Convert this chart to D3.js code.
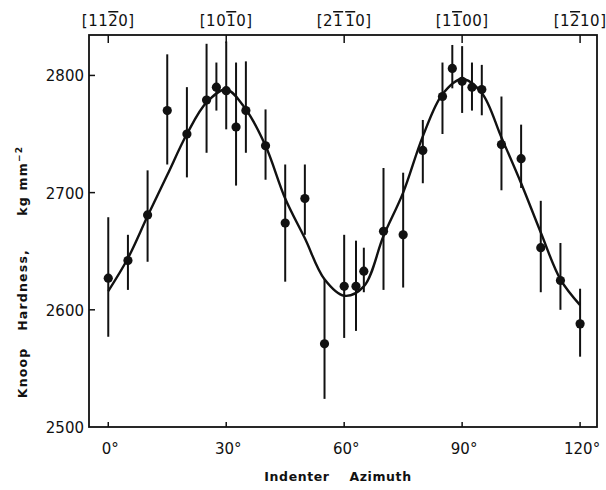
<!DOCTYPE html>
<html>
<head>
<meta charset="utf-8">
<script src="https://cdn.jsdelivr.net/npm/d3@7"></script>
<style>
  body { margin: 0; background: #fff; }
  text { font-family: 'DejaVu Sans', sans-serif; fill: #111; }
</style>
</head>
<body>
<script>
var width = 606;
var height = 490;

// measured points: indenter azimuth (deg), hardness and error bar ends
var angles   = [0, 5, 10, 15, 20, 25, 27.5, 30, 32.5, 35, 40, 45, 50, 55, 60, 63, 65, 70, 75, 80, 85, 87.5, 90, 92.5, 95, 100, 105, 110, 115, 120];
var hardness = [2627, 2642, 2681, 2770, 2750, 2779, 2790, 2787, 2756, 2770, 2740, 2674, 2695, 2571, 2620, 2620, 2633, 2667, 2664, 2736, 2782, 2806, 2795, 2790, 2788, 2741, 2729, 2653, 2625, 2588];
var errLow   = [2577, 2617, 2641, 2724, 2713, 2734, 2770, 2754, 2706, 2734, 2711, 2624, 2664, 2524, 2576, 2582, 2615, 2617, 2619, 2708, 2750, 2789, 2768, 2770, 2766, 2702, 2704, 2615, 2600, 2560];
var errHigh  = [2679, 2664, 2719, 2818, 2790, 2827, 2811, 2829, 2811, 2812, 2771, 2724, 2724, 2626, 2664, 2659, 2653, 2721, 2717, 2762, 2811, 2826, 2825, 2811, 2809, 2782, 2758, 2693, 2657, 2618];

// fitted curve
var curveAngles = [0, 5, 10, 15, 20, 25, 30, 35, 40, 45, 50, 55, 60, 65, 70, 75, 80, 85, 90, 95, 100, 105, 110, 115, 120];
var curveValues = [2616, 2644, 2680, 2715, 2750, 2777, 2788, 2771, 2740, 2695, 2661, 2626, 2612, 2620, 2663, 2700, 2748, 2784, 2797, 2785, 2747, 2708, 2666, 2626, 2604];

// axis ticks
var xTicks = [0, 30, 60, 90, 120];
var yTicks = [2500, 2600, 2700, 2800];
// top labels: [text, overlined?] parts
var topLabels = [
  [['[11', false], ['2', true], ['0]', false]],
  [['[10', false], ['1', true], ['0]', false]],
  [['[2', false], ['1', true], ['\u200a', false], ['1', true], ['0]', false]],
  [['[1', false], ['1', true], ['00]', false]],
  [['[1', false], ['2', true], ['10]', false]]
];

var x = d3.scaleLinear().domain([-4.9, 124.3]).range([89, 597]);
var y = d3.scaleLinear().domain([2500, 2834.5]).range([427, 35]);

var svg = d3.select('body').append('svg')
  .attr('width', width)
  .attr('height', height);

//frame
svg.append('rect')
  .attr('x', x.range()[0])
  .attr('y', y.range()[1])
  .attr('width', x.range()[1] - x.range()[0])
  .attr('height', y.range()[0] - y.range()[1])
  .attr('fill', 'none')
  .attr('stroke', '#111')
  .attr('stroke-width', 1.8);

//y ticks (inward) and labels
svg.selectAll('.ytick').data(yTicks.slice(1)).enter().append('line')
  .attr('x1', x.range()[0]).attr('x2', x.range()[0] + 6)
  .attr('y1', function(d){ return y(d); })
  .attr('y2', function(d){ return y(d); })
  .attr('stroke', '#111').attr('stroke-width', 1.5);

svg.selectAll('.ylab').data(yTicks).enter().append('text')
  .attr('x', 84)
  .attr('y', function(d){ return y(d) + 6; })
  .attr('text-anchor', 'end')
  .attr('font-size', 15)
  .text(function(d){ return d; });

//bottom ticks and labels
svg.selectAll('.xtick').data(xTicks).enter().append('line')
  .attr('x1', function(d){ return x(d); })
  .attr('x2', function(d){ return x(d); })
  .attr('y1', y.range()[0]).attr('y2', y.range()[0] - 5)
  .attr('stroke', '#111').attr('stroke-width', 1.5);

svg.selectAll('.xlab').data(xTicks).enter().append('text')
  .attr('x', function(d){ return x(d) + 2; })
  .attr('y', 454)
  .attr('text-anchor', 'middle')
  .attr('font-size', 15)
  .text(function(d){ return d + '\u00b0'; });

//top ticks and crystal direction labels
svg.selectAll('.ttick').data(xTicks).enter().append('line')
  .attr('x1', function(d){ return x(d); })
  .attr('x2', function(d){ return x(d); })
  .attr('y1', y.range()[1]).attr('y2', y.range()[1] + 8)
  .attr('stroke', '#111').attr('stroke-width', 1.5);

var tl = svg.selectAll('.tlab').data(topLabels).enter().append('text')
  .attr('x', function(d, i){ return x(xTicks[i]); })
  .attr('y', 26)
  .attr('text-anchor', 'middle')
  .attr('font-size', 15)
  .attr('letter-spacing', 0.5);
tl.selectAll('tspan').data(function(d){ return d; }).enter().append('tspan')
  .attr('text-decoration', function(d){ return d[1] ? 'overline' : null; })
  .text(function(d){ return d[0]; });

//error bars
var idx = d3.range(angles.length);
svg.selectAll('.err').data(idx).enter().append('line')
  .attr('x1', function(i){ return x(angles[i]); })
  .attr('x2', function(i){ return x(angles[i]); })
  .attr('y1', function(i){ return y(errLow[i]); })
  .attr('y2', function(i){ return y(errHigh[i]); })
  .attr('stroke', '#111').attr('stroke-width', 2);

//fitted curve
var line = d3.line()
  .x(function(d){ return x(d[0]); })
  .y(function(d){ return y(d[1]); })
  .curve(d3.curveCatmullRom);
svg.append('path')
  .datum(d3.zip(curveAngles, curveValues))
  .attr('d', line)
  .attr('fill', 'none')
  .attr('stroke', '#111')
  .attr('stroke-width', 2.4);

//points
svg.selectAll('.pt').data(idx).enter().append('circle')
  .attr('cx', function(i){ return x(angles[i]); })
  .attr('cy', function(i){ return y(hardness[i]); })
  .attr('r', 4.6)
  .attr('fill', '#111');

//axis titles
svg.append('text')
  .attr('x', 338).attr('y', 481)
  .attr('text-anchor', 'middle')
  .attr('font-size', 12.5)
  .attr('font-weight', 'bold')
  .attr('letter-spacing', 0.6)
  .attr('xml:space', 'preserve')
  .text('Indenter    Azimuth');

var yt = svg.append('text')
  .attr('transform', 'translate(27,272) rotate(-90)')
  .attr('text-anchor', 'middle')
  .attr('font-size', 12.5)
  .attr('font-weight', 'bold')
  .attr('letter-spacing', 1.2)
  .attr('xml:space', 'preserve');
yt.append('tspan').text('Knoop   Hardness,      kg mm');
yt.append('tspan').attr('dy', -5).attr('font-size', 9).text('\u22122');
</script>
</body>
</html>
